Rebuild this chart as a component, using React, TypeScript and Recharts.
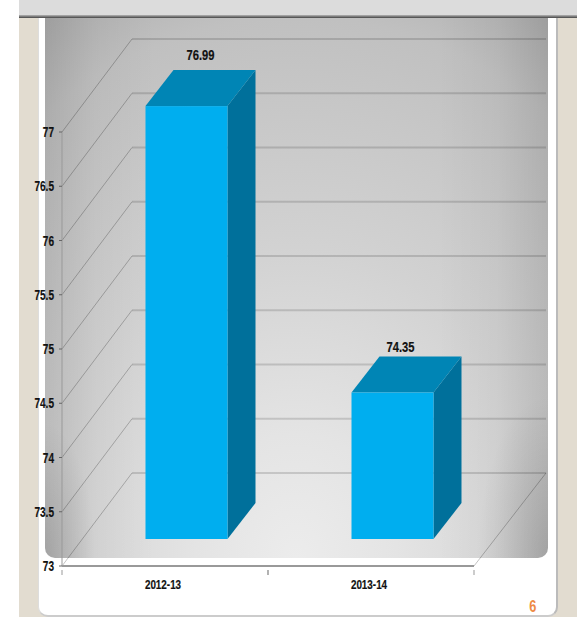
import { BarChart, Bar, XAxis, YAxis, CartesianGrid, LabelList } from "recharts";

const years = ["2012-13", "2013-14"];
const values = [76.99, 74.35];
const yTicks = [73, 73.5, 74, 74.5, 75, 75.5, 76, 76.5, 77];

const chartData = years.map((year, i) => ({ year, value: values[i] }));

// the box stands on the floor, part way between the axis and the back wall
const BAR_DX = 21.5;
const BAR_DY = -27;
const DEPTH_X = 28;
const DEPTH_Y = -36;
// back wall offset, measured from the axis plane
const WALL_DX = 70;
const WALL_DY = -93;
// the two value labels do not sit the same way on their boxes
const LABEL_NUDGE = [
  [0, -2],
  [-6, 3],
];

const font = '"Liberation Sans", Arial, sans-serif';

// no narrow bold face is installed, so squeeze a regular one
function NarrowText({ x, y, anchor, size, squeeze = 0.8, children }: any) {
  return (
    <text
      transform={`translate(${x},${y}) scale(${squeeze},1)`}
      textAnchor={anchor}
      fontFamily={font}
      fontWeight="bold"
      fontSize={size}
      fill="#111"
      stroke="#111"
      strokeWidth={0.2}
    >
      {children}
    </text>
  );
}

function Box3D({ x, y, width, height }: any) {
  const l = x + BAR_DX;
  const r = l + width;
  const t = y + BAR_DY;
  const b = t + height;
  return (
    <g>
      <polygon
        points={`${r},${t} ${r + DEPTH_X},${t + DEPTH_Y} ${r + DEPTH_X},${b + DEPTH_Y} ${r},${b}`}
        fill="#00709b"
      />
      <polygon
        points={`${l},${t} ${l + DEPTH_X},${t + DEPTH_Y} ${r + DEPTH_X},${t + DEPTH_Y} ${r},${t}`}
        fill="#0085b5"
      />
      <rect x={l} y={t} width={width} height={height} fill="#00aeef" />
    </g>
  );
}

function WallLine({ x1, y1, x2, index }: any) {
  const wallY = y1 + WALL_DY;
  return (
    <g key={`wall-${index}`} fill="none">
      <line x1={x1} y1={y1} x2={x1 + WALL_DX} y2={wallY} stroke="rgba(0,0,0,0.24)" strokeWidth={1} />
      <line x1={x1 + WALL_DX} y1={wallY} x2={x2 + WALL_DX + 2} y2={wallY} stroke="rgba(0,0,0,0.14)" strokeWidth={2} />
      {index === 0 && (
        <line x1={x2} y1={y1} x2={x2 + WALL_DX + 2} y2={wallY} stroke="rgba(0,0,0,0.24)" strokeWidth={1} />
      )}
    </g>
  );
}

function ValueLabel({ x, y, width, value, index }: any) {
  const [dx, dy] = LABEL_NUDGE[index] ?? [0, 0];
  return (
    <NarrowText
      x={x + BAR_DX + width / 2 + DEPTH_X / 2 + dx}
      y={y + BAR_DY + DEPTH_Y - 8 + dy}
      anchor="middle"
      size={14}
    >
      {value}
    </NarrowText>
  );
}

function ValueTick({ x, y, payload }: any) {
  return (
    <NarrowText x={x - 1} y={y + 5} anchor="end" size={14} squeeze={0.72}>
      {payload.value}
    </NarrowText>
  );
}

function YearTick({ x, y, payload }: any) {
  const half = 206 / 2;
  return (
    <g>
      <line x1={x - half} y1={y - 4} x2={x - half} y2={y + 1} stroke="#999" />
      <line x1={x + half} y1={y - 4} x2={x + half} y2={y + 1} stroke="#999" />
      <NarrowText x={x - 2} y={y + 15} anchor="middle" size={13} squeeze={0.76}>
        {payload.value}
      </NarrowText>
    </g>
  );
}

const panelBackground = [
  "radial-gradient(ellipse 10% 25% at 0% 100%, rgba(0,0,0,0.14), rgba(0,0,0,0))",
  "radial-gradient(ellipse 14% 30% at 100% 100%, rgba(0,0,0,0.14), rgba(0,0,0,0))",
  "linear-gradient(90deg, rgba(0,0,0,0.1), rgba(0,0,0,0.03) 10%, rgba(0,0,0,0) 22%, rgba(0,0,0,0) 78%, rgba(0,0,0,0.03) 90%, rgba(0,0,0,0.1))",
  "radial-gradient(ellipse 100% 115% at 50% 100%, #ececec 0%, #e4e4e4 20%, #d2d2d2 50%, #c6c6c6 75%, #c0c0c0 87%, #b0b0b0 100%)",
].join(", ");

export default function App() {
  return (
    <div style={{ position: "absolute", left: 0, top: 0, width: 577, height: 617, overflow: "hidden", background: "#fff" }}>
      {/* page around the chart */}
      <div style={{ position: "absolute", left: 19, top: 0, width: 558, height: 617, background: "#e2dcd0" }} />
      <div
        style={{
          position: "absolute",
          left: 38,
          top: 0,
          width: 517,
          height: 615,
          background: "#fff",
          borderRight: "2px solid #bbb",
          borderLeft: "1px solid #ddd",
          borderBottom: "2px solid #ccc",
          borderRadius: "0 0 10px 10px",
        }}
      />
      <div
        style={{
          position: "absolute",
          left: 45,
          top: 17,
          width: 503,
          height: 541,
          borderRadius: "0 0 10px 10px",
          background: panelBackground,
        }}
      />
      <div style={{ position: "absolute", left: 19, top: 0, width: 558, height: 15, background: "#dcdcdc" }} />
      <div style={{ position: "absolute", left: 19, top: 15, width: 558, height: 3, background: "linear-gradient(#b5b5b5, #444)" }} />

      <div style={{ position: "absolute", left: 0, top: 0 }}>
        <BarChart
          width={577}
          height={617}
          data={chartData}
          margin={{ top: 132, right: 103, bottom: 0, left: 0 }}
        >
          <CartesianGrid vertical={false} horizontal={(props: any) => <WallLine {...props} />} />
          <XAxis
            dataKey="year"
            height={51}
            axisLine={{ stroke: "#999", strokeWidth: 2 }}
            tickLine={false}
            tick={<YearTick />}
          />
          <YAxis
            type="number"
            domain={[73, 77]}
            ticks={yTicks}
            interval={0}
            width={62}
            axisLine={{ stroke: "#999" }}
            tickSize={3}
            tickMargin={4}
            tick={<ValueTick />}
          />
          <Bar dataKey="value" barSize={82} shape={<Box3D />} isAnimationActive={false}>
            <LabelList dataKey="value" content={<ValueLabel />} />
          </Bar>
        </BarChart>
      </div>

      <div
        style={{
          position: "absolute",
          left: 528,
          top: 597,
          fontFamily: font,
          fontWeight: "bold",
          fontSize: 17,
          color: "#ee8a45",
          transform: "scaleX(0.75)",
        }}
      >
        6
      </div>
    </div>
  );
}
